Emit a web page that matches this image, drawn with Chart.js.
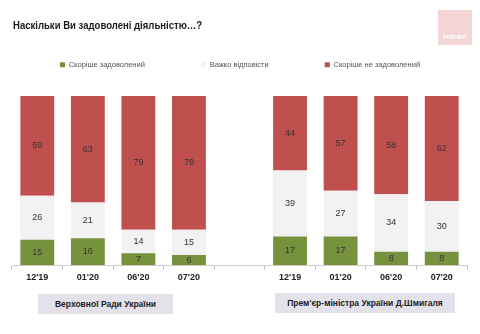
<!DOCTYPE html>
<html><head><meta charset="utf-8">
<script src="https://cdn.jsdelivr.net/npm/chart.js@4"></script>
<style>
html,body{margin:0;padding:0;background:#fff;}
#wrap{position:relative;width:480px;height:334px;font-family:"Liberation Sans",Arial,sans-serif;}
canvas{position:absolute;left:0;top:0;}
#title{position:absolute;left:13px;top:19px;font-size:11.5px;font-weight:bold;color:#1a1a1a;white-space:nowrap;transform:scaleX(0.83);transform-origin:0 0;}
.grp{position:absolute;background:#e3e1ea;color:#222;font-weight:bold;font-size:8.5px;text-align:center;line-height:20px;height:20px;}
#logo{position:absolute;left:438px;top:10px;width:34px;height:35px;background:#f3d5d5;color:#fff;font-size:5px;font-weight:bold;text-align:center;line-height:6px;}
</style></head><body>
<div id="wrap">
<canvas id="c" width="480" height="334"></canvas>
<div id="title">Наскільки Ви задоволені діяльністю…?</div>
<div id="logo"><div style="position:absolute;bottom:5px;width:100%">РЕЙТИНГ</div></div>
<div class="grp" style="left:38px;top:294px;width:135px;">Верховної Ради України</div>
<div class="grp" style="left:275px;top:293px;width:180px;">Прем'єр-міністра України Д.Шмигаля</div>
</div>
<script>
const categories = ["12'19","01'20","06'20","07'20","","12'19","01'20","06'20","07'20"];
const satisfied    = [15,16,7,6,null,17,17,8,8];
const hardToSay    = [26,21,14,15,null,39,27,34,30];
const notSatisfied = [59,63,79,79,null,44,57,58,62];
const seriesNames = ["Скоріше задоволений","Важко відповісти","Скоріше не задоволений"];

const FONT = '"Liberation Sans", Arial, sans-serif';

const labelPlugin = {
  id:'vals',
  afterDatasetsDraw(chart){
    const ctx = chart.ctx;
    ctx.save();
    ctx.font = '9px ' + FONT;
    ctx.fillStyle = '#333';
    ctx.textAlign = 'center';
    ctx.textBaseline = 'middle';
    const area = chart.chartArea;
    chart.data.datasets.forEach((ds,i)=>{
      chart.getDatasetMeta(i).data.forEach((el,j)=>{
        const v = ds.data[j];
        if(v==null) return;
        const top = Math.max(el.y, area.top);
        const y = (top + el.base)/2;
        ctx.fillText(String(v), el.x, y);
      });
    });
    ctx.restore();
  }
};

const hiddenAxis = (pos, w) => ({
  position:pos, display:true, min:0, max:100,
  ticks:{display:false}, grid:{display:false}, border:{display:false},
  afterFit(s){ s.width = w; }
});

new Chart(document.getElementById('c'),{
  type:'bar',
  data:{
    labels:categories,
    datasets:[
      {label:seriesNames[0],data:satisfied,backgroundColor:'#76923c'},
      {label:seriesNames[1],data:hardToSay,backgroundColor:'#f2f2f2'},
      {label:seriesNames[2],data:notSatisfied,backgroundColor:'#c0504d'}
    ]
  },
  options:{
    responsive:false,
    animation:false,
    layout:{padding:{left:0,right:0,top:5,bottom:48}},
    datasets:{bar:{categoryPercentage:1,barPercentage:0.67}},
    scales:{
      x:{stacked:true,
        grid:{display:true,offset:true,drawOnChartArea:false,tickLength:4,color:'#bfbfbf'},
        border:{display:true,color:'#d0d0d0'},
        ticks:{font:{family:FONT,size:9,weight:'bold'},color:'#222',padding:3}
      },
      y:Object.assign({stacked:true}, hiddenAxis('left',12)),
      yR:hiddenAxis('right',13)
    },
    plugins:{
      title:{display:false},
      subtitle:{display:true,text:' ',weight:500,font:{size:1},padding:{top:0,bottom:16.3}},
      legend:{display:true,position:'top',
        labels:{boxWidth:5,boxHeight:5,padding:56,color:'#555',
          font:{family:FONT,size:7.5}}},
      tooltip:{enabled:false}
    }
  },
  plugins:[labelPlugin]
});
</script>
</body></html>
